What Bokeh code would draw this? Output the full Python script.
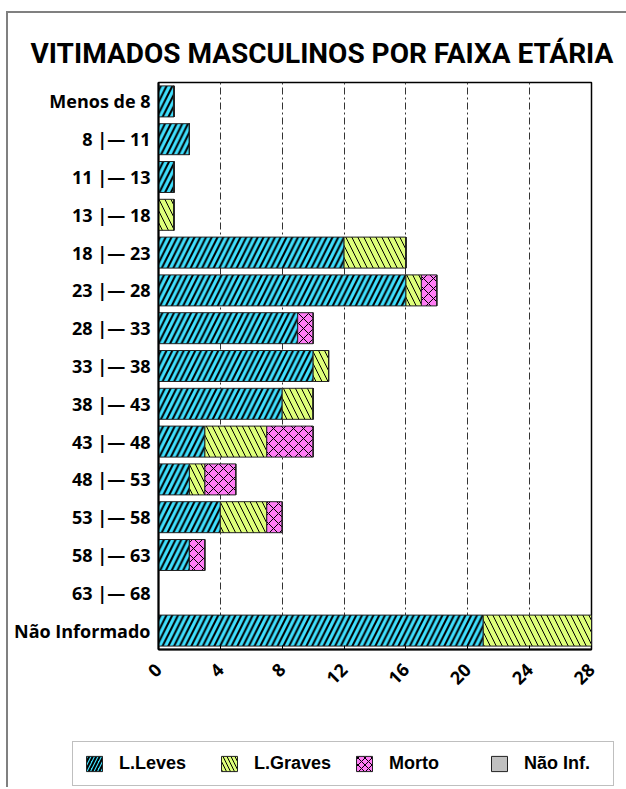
from math import pi
from bokeh.plotting import figure
from bokeh.layouts import column
from bokeh.models import FactorRange, Range1d, FixedTicker, Legend, LegendItem, ColumnDataSource, Label
from bokeh.embed import file_html
from bokeh.resources import INLINE

faixas = ["Menos de 8", "8 |\u2014 11", "11 |\u2014 13", "13 |\u2014 18", "18 |\u2014 23",
          "23 |\u2014 28", "28 |\u2014 33", "33 |\u2014 38", "38 |\u2014 43", "43 |\u2014 48",
          "48 |\u2014 53", "53 |\u2014 58", "58 |\u2014 63", "63 |\u2014 68", "N\u00e3o Informado"]
leves = [1, 2, 1, 0, 12, 16, 9, 10, 8, 3, 2, 4, 2, 0, 21]
graves = [0, 0, 0, 1, 4, 1, 0, 1, 2, 4, 1, 3, 0, 0, 7]
morto = [0, 0, 0, 0, 0, 1, 1, 0, 0, 3, 2, 1, 1, 0, 0]
nao_inf = [0, 0, 0, 0, 0, 0, 0, 0, 0, 0, 0, 0, 0, 0, 0]
series = ["L.Leves", "L.Graves", "Morto", "N\u00e3o Inf."]
x_ticks = [0, 4, 8, 12, 16, 20, 24, 28]
titulo = "VITIMADOS MASCULINOS  POR FAIXA ET\u00c1RIA"

TITF = "Roboto"
LABF = "Open Sans"
LEGF = "Liberation Sans"
fills = ["#40E0FF", "#DEFF7A", "#FF7CF5", "#C0C0C0"]
hatches = ["/", "\\", "x", " "]
hscale = [11.5, 12, 10, 10]
hweight = [2.0, 1, 1, 1]
cols = ["leves", "graves", "morto", "nao_inf"]

src = ColumnDataSource(dict(faixa=faixas, leves=leves, graves=graves, morto=morto, nao_inf=nao_inf))

# title strip
pt = figure(width=618, height=60, output_backend="svg", toolbar_location=None, title=None,
            x_range=Range1d(0, 1), y_range=Range1d(0, 1),
            x_axis_location=None, y_axis_location=None,
            min_border_left=0, min_border_right=0, min_border_top=0, min_border_bottom=0)
pt.frame_align = False
pt.grid.visible = False
pt.outline_line_color = None
pt.add_layout(Label(x=22, y=20, x_units="screen", y_units="screen", text=titulo,
                    text_font=TITF, text_font_style="bold", text_font_size="28px",
                    text_align="left", text_baseline="alphabetic", text_color="black"))

# main chart
p = figure(width=618, height=655, output_backend="svg", toolbar_location=None, title=None,
           y_range=FactorRange(factors=list(reversed(faixas)), range_padding=0),
           x_range=Range1d(0, 28),
           min_border_left=150, min_border_right=35, min_border_top=9, min_border_bottom=79)
p.frame_align = False

p.xgrid.ticker = FixedTicker(ticks=x_ticks)
p.xgrid.grid_line_color = "#333333"
p.xgrid.grid_line_dash = "7 3 2 3"
p.xgrid.grid_line_width = 1
p.ygrid.grid_line_color = None

rs = p.hbar_stack(cols, y="faixa", height=0.82, source=src,
                  fill_color=fills, line_color="#222222", line_width=1,
                  hatch_pattern=hatches, hatch_scale=hscale, hatch_weight=hweight,
                  hatch_color="black")

p.outline_line_color = "black"
p.outline_line_width = 1.5

p.xaxis.ticker = FixedTicker(ticks=x_ticks)
p.xaxis.major_label_orientation = pi / 4
p.xaxis.major_label_text_font = LABF
p.xaxis.major_label_text_font_style = "bold"
p.xaxis.major_label_text_font_size = "18px"
p.xaxis.major_label_text_color = "black"
p.xaxis.major_tick_in = 4
p.xaxis.major_tick_out = 0
p.xaxis.minor_tick_line_color = None
p.xaxis.axis_line_width = 2
p.xaxis.axis_line_color = "black"
p.xaxis.major_label_standoff = 17

p.yaxis.major_label_text_font = LABF
p.yaxis.major_label_text_font_style = "bold"
p.yaxis.major_label_text_font_size = "18px"
p.yaxis.major_label_text_color = "black"
p.yaxis.major_tick_line_color = None
p.yaxis.minor_tick_line_color = None
p.yaxis.axis_line_width = 2
p.yaxis.axis_line_color = "black"
p.yaxis.major_label_standoff = 2

# legend strip below the chart (its renderers are hidden; they only give the legend its swatches)
pl = figure(width=618, height=59, output_backend="svg", toolbar_location=None, title=None,
            x_range=Range1d(0, 28), y_range=FactorRange(factors=list(reversed(faixas))),
            x_axis_location=None, y_axis_location=None,
            min_border_left=0, min_border_right=0, min_border_top=0, min_border_bottom=0)
pl.frame_align = False
pl.grid.visible = False
pl.outline_line_color = None
leg_rs = pl.hbar_stack(cols, y="faixa", height=0.82, source=src,
                       fill_color=fills, line_color="#222222", line_width=1,
                       hatch_pattern=hatches, hatch_scale=[7, 8, 7, 7], hatch_weight=hweight,
                       hatch_color="black")
for r in leg_rs:
    r.visible = False
legend = Legend(items=[LegendItem(label=s, renderers=[r]) for s, r in zip(series, leg_rs)],
                orientation="horizontal", location=(64, 1),
                label_text_font=LEGF, label_text_font_style="bold", label_text_font_size="18px",
                label_text_color="black", inactive_fill_alpha=0, label_width=78,
                glyph_width=20, glyph_height=19, label_standoff=15, spacing=22, padding=11, margin=0,
                border_line_color="#808080", border_line_width=1.5, background_fill_color="white")
pl.add_layout(legend)

layout = column(pt, p, pl, spacing=0)
layout.styles = {"border-top": "2px solid #808080", "border-left": "2px solid #808080",
                 "margin-top": "11px", "margin-left": "6px"}

open("out.html", "w").write(file_html(layout, INLINE))
